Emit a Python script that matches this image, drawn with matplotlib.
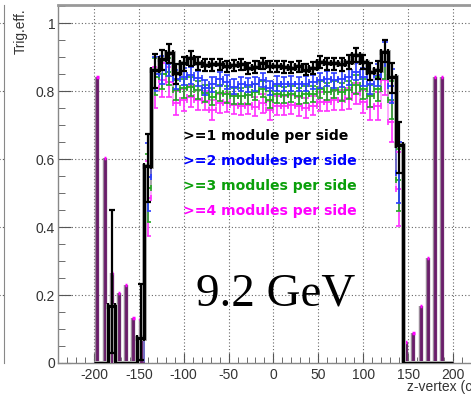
import numpy as np
import matplotlib
matplotlib.use("Agg")
import matplotlib.pyplot as plt
from matplotlib.ticker import MultipleLocator

plt.rcParams["font.family"] = ["Liberation Sans", "DejaVu Sans"]
plt.rcParams["axes.unicode_minus"] = False
plt.rcParams["xtick.direction"] = "in"
plt.rcParams["ytick.direction"] = "in"

# z-vertex binning (cm): 8 cm bins between -200 and 200
z_min, z_max, z_step = -200, 200, 8
edges = np.arange(z_min, z_max + z_step, z_step)
centers = 0.5 * (edges[:-1] + edges[1:])

# trigger efficiency per bin for >=1 .. >=4 fired modules per side
eff_ge1 = [0, 0, 0.167, 0, 0, 0, 0.075, 0.58, 0.862, 0.893,
           0.911, 0.852, 0.881, 0.896, 0.881, 0.876, 0.878, 0.879, 0.873, 0.876,
           0.878, 0.867, 0.871, 0.881, 0.873, 0.873, 0.871, 0.869, 0.873, 0.863,
           0.868, 0.886, 0.881, 0.881, 0.878, 0.886, 0.906, 0.886, 0.857, 0.862,
           0.916, 0.84, 0.64, 0, 0, 0, 0, 0, 0, 0]
eff_ge2 = [0, 0, 0, 0, 0, 0, 0, 0.546, 0.85, 0.862,
           0.88, 0.835, 0.842, 0.846, 0.837, 0.81, 0.82, 0.836, 0.827, 0.813,
           0.82, 0.818, 0.82, 0.833, 0.808, 0.822, 0.82, 0.822, 0.82, 0.822,
           0.826, 0.832, 0.836, 0.832, 0.836, 0.842, 0.857, 0.842, 0.82, 0.848,
           0.91, 0.815, 0.56, 0, 0, 0, 0, 0, 0, 0]
eff_ge3 = [0, 0, 0, 0, 0, 0, 0, 0.516, 0.842, 0.85,
           0.857, 0.803, 0.808, 0.813, 0.803, 0.793, 0.783, 0.795, 0.79, 0.785,
           0.786, 0.787, 0.798, 0.806, 0.775, 0.79, 0.788, 0.792, 0.785, 0.79,
           0.792, 0.805, 0.798, 0.803, 0.798, 0.803, 0.818, 0.805, 0.786, 0.805,
           0.876, 0.774, 0.538, 0, 0, 0, 0, 0, 0, 0]
eff_ge4 = [0, 0, 0, 0, 0, 0, 0, 0.484, 0.81, 0.832,
           0.827, 0.764, 0.774, 0.783, 0.774, 0.772, 0.744, 0.764, 0.767, 0.759,
           0.757, 0.759, 0.754, 0.764, 0.744, 0.756, 0.757, 0.76, 0.755, 0.75,
           0.756, 0.769, 0.769, 0.774, 0.774, 0.778, 0.793, 0.769, 0.752, 0.756,
           0.832, 0.71, 0.512, 0, 0, 0, 0, 0, 0, 0]

# asymmetric uncertainties of the >=1 curve
err_lo_ge1 = [0, 0, 0.137, 0, 0, 0, 0.065, 0.106, 0.052, 0.03,
              0.028, 0.03, 0.022, 0.022, 0.02, 0.018, 0.018, 0.017, 0.017, 0.017,
              0.017, 0.017, 0.017, 0.017, 0.017, 0.017, 0.017, 0.017, 0.017, 0.017,
              0.017, 0.018, 0.018, 0.018, 0.019, 0.02, 0.022, 0.022, 0.025, 0.028,
              0.03, 0.045, 0.08, 0, 0, 0, 0, 0, 0, 0]
err_hi_ge1 = [0, 0, 0.283, 0, 0, 0, 0.157, 0.095, 0.047, 0.027,
              0.027, 0.028, 0.02, 0.021, 0.019, 0.017, 0.017, 0.016, 0.016, 0.016,
              0.016, 0.016, 0.016, 0.016, 0.016, 0.016, 0.016, 0.016, 0.016, 0.016,
              0.016, 0.017, 0.017, 0.017, 0.018, 0.019, 0.02, 0.021, 0.024, 0.026,
              0.034, 0.043, 0.07, 0, 0, 0, 0, 0, 0, 0]
# symmetric uncertainties of the >=2, >=3, >=4 curves
err_ge2 = [0, 0, 0, 0, 0, 0, 0, 0.1, 0.05, 0.04,
           0.035, 0.028, 0.025, 0.024, 0.023, 0.022, 0.022, 0.021, 0.021, 0.021,
           0.021, 0.021, 0.021, 0.021, 0.021, 0.021, 0.021, 0.021, 0.021, 0.021,
           0.021, 0.022, 0.022, 0.022, 0.023, 0.024, 0.025, 0.026, 0.03, 0.032,
           0.035, 0.05, 0.09, 0, 0, 0, 0, 0, 0, 0]
err_ge3 = [0, 0, 0, 0, 0, 0, 0, 0.1, 0.055, 0.045,
           0.04, 0.03, 0.028, 0.027, 0.026, 0.025, 0.025, 0.024, 0.024, 0.024,
           0.024, 0.024, 0.024, 0.024, 0.024, 0.024, 0.024, 0.024, 0.024, 0.024,
           0.024, 0.025, 0.025, 0.025, 0.026, 0.027, 0.028, 0.029, 0.032, 0.035,
           0.04, 0.055, 0.09, 0, 0, 0, 0, 0, 0, 0]
err_ge4 = [0, 0, 0, 0, 0, 0, 0, 0.11, 0.06, 0.05,
           0.045, 0.035, 0.032, 0.031, 0.03, 0.029, 0.029, 0.028, 0.028, 0.028,
           0.028, 0.028, 0.028, 0.028, 0.028, 0.028, 0.028, 0.028, 0.028, 0.028,
           0.028, 0.029, 0.029, 0.029, 0.03, 0.031, 0.032, 0.034, 0.036, 0.04,
           0.045, 0.06, 0.11, 0, 0, 0, 0, 0, 0, 0]
# upper limits in bins with no triggered events
zero_bin_upper = [0.842, 0.602, 0.265, 0.205, 0.229, 0.131, 0.13, 0, 0, 0,
                  0, 0, 0, 0, 0, 0, 0, 0, 0, 0,
                  0, 0, 0, 0, 0, 0, 0, 0, 0, 0,
                  0, 0, 0, 0, 0, 0, 0, 0, 0, 0,
                  0, 0, 0, 0.063, 0.087, 0.168, 0.308, 0.842, 0.842, 0]

labels = [">=1 module per side", ">=2 modules per side",
          ">=3 modules per side", ">=4 modules per side"]
colors = ["#000000", "#0000ff", "#0a9f0a", "#ff00ff"]
bar_colors = ["#000000", "#2a3cff", "#22a822", "#ff30ff"]
purple = "#6a1d6a"

W, H = 471, 397
fig = plt.figure(figsize=(W / 100, H / 100), dpi=100)

# neighbouring pad edge on the far left
ax0 = fig.add_axes([-0.05, 34 / H, 0.05 + 3.5 / W, 358 / H])
ax0.set_ylim(0, 1.053)
ax0.set_xlim(0, 1)
ax0.set_yticks([0.2, 0.4, 0.6, 0.8, 1.0])
ax0.grid(True, axis="y", linestyle=(0, (1, 2)), color="#555", lw=0.8)
ax0.tick_params(left=False, bottom=False, labelleft=False, labelbottom=False)
for s in ("left", "top", "bottom"):
    ax0.spines[s].set_visible(False)
ax0.spines["right"].set_color("#888")

ax = fig.add_axes([58 / W, 34 / H, (488.9 - 58) / W, 358 / H])
ax.set_xlim(-240, 240)
ax.set_ylim(0, 1.053)

eff = [np.array(v) for v in (eff_ge1, eff_ge2, eff_ge3, eff_ge4)]
errs = [np.array([err_lo_ge1, err_hi_ge1])] + \
       [np.array([e, e]) for e in (err_ge2, err_ge3, err_ge4)]
upper = np.array(zero_bin_upper)

# colored curves (>=4 first so >=1 ends up on top)
for k in (3, 2, 1):
    v = eff[k]
    ax.stairs(v, edges, color=colors[k], lw=1.2, alpha=0.4, zorder=3)
    m = v > 0
    ax.errorbar(centers[m], v[m], xerr=z_step / 2, yerr=errs[k][:, m],
                fmt="none", ecolor=bar_colors[k], elinewidth=1.2,
                capsize=2, capthick=1.2, zorder=4)

# empty bins: baseline and upper limits
zm = eff[3] == 0
ax.hlines(np.zeros(zm.sum()), edges[:-1][zm], edges[1:][zm],
          color=purple, lw=2.2, zorder=5)
um = upper > 0
ax.vlines(centers[um], 0, upper[um], color="#9a8a9a", lw=3.2, zorder=5)
ax.vlines(centers[um], 0, upper[um], color=purple, lw=2.0, zorder=5)
ax.hlines(upper[um], centers[um] - 1.3, centers[um] + 1.3,
          color="#ff00ff", lw=2.5, zorder=6)

# >=1 curve
v = eff[0]
ax.stairs(v, edges, color="#b0b0b0", lw=3.6, zorder=6)
ax.stairs(v, edges, color="black", lw=2.2, zorder=7)
m = v > 0
ax.errorbar(centers[m], v[m], xerr=z_step / 2, yerr=errs[0][:, m],
            fmt="none", ecolor="black", elinewidth=1.6,
            capsize=2.2, capthick=1.6, zorder=7)

# axes styling
ax.xaxis.set_major_locator(MultipleLocator(50))
ax.xaxis.set_minor_locator(MultipleLocator(10))
ax.yaxis.set_major_locator(MultipleLocator(0.2))
ax.yaxis.set_minor_locator(MultipleLocator(0.05))
ax.grid(True, which="major", linestyle=(0, (1, 2)), color="#666", lw=0.8)
ax.set_axisbelow(True)
ax.tick_params(which="both", direction="in", color="#555", labelcolor="#333",
               labelsize=10, top=False, right=False)
ax.tick_params(axis="y", which="major", direction="in", length=9, pad=2)
ax.tick_params(axis="y", which="minor", direction="in", length=5)
ax.tick_params(axis="x", which="major", direction="in", length=7, pad=3.5)
ax.tick_params(axis="x", which="minor", direction="in", length=4)
ax.yaxis.set_major_formatter(plt.FuncFormatter(lambda y, _: f"{y:g}"))
for s in ax.spines.values():
    s.set_color("#888")
    s.set_linewidth(1.0)
ax.spines["top"].set_linewidth(2.0)
ax.spines["top"].set_color("#999")

fig.text(21 / W, 1 - 8 / H, "Trig.eff.", rotation=90, ha="center", va="top",
         fontsize=9.8, color="#333")
ax.text(240, -(391.5 - 363) / 340, "z-vertex (cm)", ha="right", va="baseline",
        fontsize=10, color="#333", clip_on=False)

for i, (lab, col) in enumerate(zip(labels, colors)):
    fig.text(183 / W, 1 - (140 + 25 * i) / H, lab, color=col,
             fontsize=10.1, fontweight="bold", family="DejaVu Sans",
             ha="left", va="baseline")

fig.text(196 / W, 1 - 305 / H, "9.2 GeV", family="Liberation Serif",
         fontsize=33.8, ha="left", va="baseline", color="black")

fig.savefig("out.png", dpi=100)
